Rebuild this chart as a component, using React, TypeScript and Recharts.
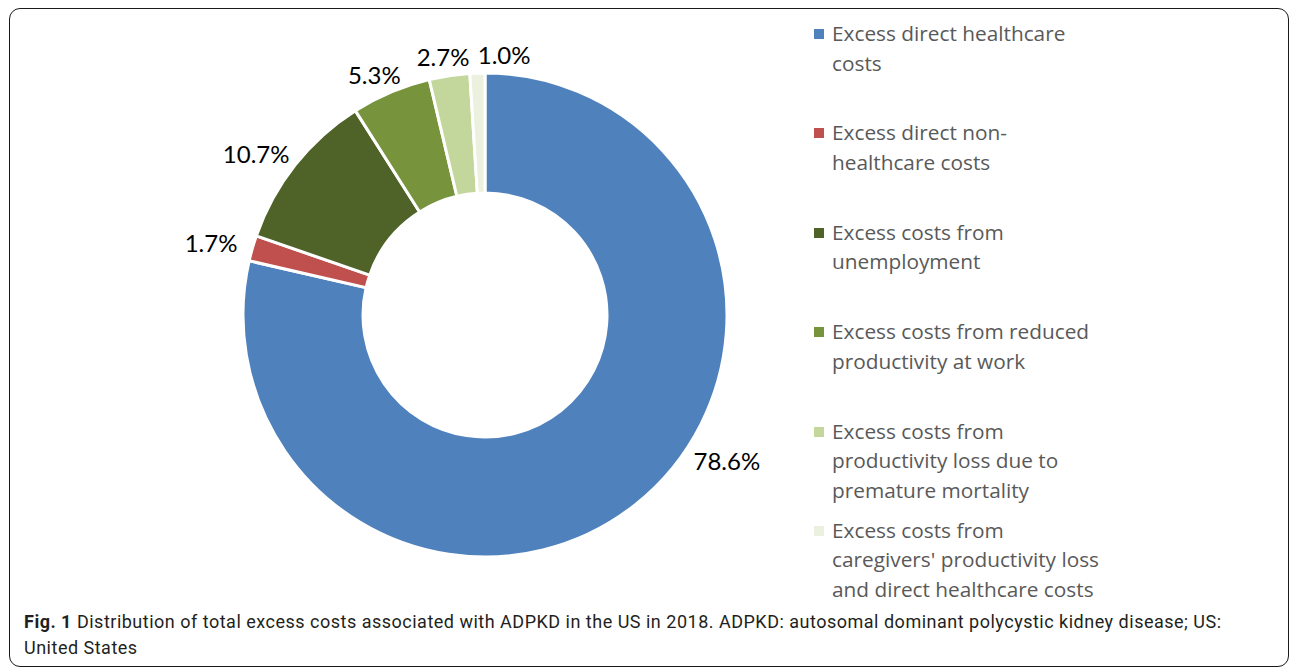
import React from 'react';
import { PieChart, Pie, Cell, Legend } from 'recharts';

// categories (line breaks kept as in the original legend)
const CATEGORIES = [
    'Excess direct healthcare\ncosts',
    'Excess direct non-\nhealthcare costs',
    'Excess costs from\nunemployment',
    'Excess costs from reduced\nproductivity at work',
    'Excess costs from\nproductivity loss due to\npremature mortality',
    "Excess costs from\ncaregivers' productivity loss\nand direct healthcare costs",
];
const SHARES = [78.6, 1.7, 10.7, 5.3, 2.7, 1.0];
const COLORS = ['#4F81BD', '#C0504D', '#4F6228', '#77933C', '#C3D69B', '#EBF1DE'];

const LABEL_FONT = "Lato, 'Open Sans', sans-serif";
const LEGEND_FONT = "'Open Sans', Lato, sans-serif";
const TEXT_GRAY = '#595959';
const BIG_LABEL_ANGLE = -34; // excel "best fit" moves the big slice label

const chartData = CATEGORIES.map((name, i) => ({ name, value: SHARES[i] }));

// eslint-disable-next-line @typescript-eslint/no-explicit-any
const renderLabel = (props: any) => {
    const { cx, cy, midAngle, outerRadius, percent, value } = props;
    const text = `${Number(value).toFixed(1)}%`;
    const angle = percent > 0.5 ? BIG_LABEL_ANGLE : midAngle;
    const rad = (Math.PI / 180) * angle;
    const cos = Math.cos(rad);
    const sin = Math.sin(rad);
    const r = outerRadius + 8;
    const px = cx + r * cos;
    const py = cy - r * sin;
    const w = text.length * 13.5;
    const h = 22;
    let x = px + (w / 2 + 8) * cos;
    if (Math.abs(cos) < 0.05) x = px + w / 2;
    const y = py - (h / 2) * sin;
    return (
        <text
            x={x}
            y={y}
            textAnchor="middle"
            dominantBaseline="central"
            fill="#000"
            fontSize={24}
            fontFamily={LABEL_FONT}
        >
            {text}
        </text>
    );
};

// eslint-disable-next-line @typescript-eslint/no-explicit-any
const LegendContent = ({ payload }: any) => {
    const items = (payload || [])
        .slice()
        .sort(
            (a: { value: string }, b: { value: string }) =>
                CATEGORIES.indexOf(a.value) - CATEGORIES.indexOf(b.value)
        );
    return (
        <div style={{ fontFamily: LEGEND_FONT }}>
            {items.map((p: { value: string; color: string }, i: number) => (
                <div
                    key={i}
                    style={{
                        position: 'relative',
                        height: 99.4,
                        paddingLeft: 18,
                        fontSize: 20.8,
                        lineHeight: '29.5px',
                        color: TEXT_GRAY,
                        whiteSpace: 'pre-line',
                    }}
                >
                    <span
                        style={{
                            position: 'absolute',
                            left: 0,
                            top: 10,
                            width: 10,
                            height: 10,
                            background: p.color,
                        }}
                    />
                    {p.value}
                </div>
            ))}
        </div>
    );
};

export default function App() {
    return (
        <div
            style={{
                position: 'fixed',
                left: 0,
                top: 0,
                width: 1292,
                height: 668,
                overflow: 'hidden',
                background: '#fff',
            }}
        >
            <div
                style={{
                    position: 'absolute',
                    left: 9,
                    top: 8,
                    width: 1278,
                    height: 657,
                    border: '1.5px solid #1a1a1a',
                    borderRadius: 11,
                }}
            />
            <div style={{ position: 'absolute', left: 0, top: 0 }}>
                <PieChart width={1292} height={600} margin={{ top: 0, right: 0, bottom: 0, left: 0 }}>
                    <Pie
                        data={chartData}
                        dataKey="value"
                        nameKey="name"
                        cx={485}
                        cy={315}
                        innerRadius={122}
                        outerRadius={242}
                        startAngle={90}
                        endAngle={-270}
                        stroke="#fff"
                        strokeWidth={3}
                        label={renderLabel}
                        labelLine={false}
                        isAnimationActive={false}
                    >
                        {chartData.map((_, i) => (
                            <Cell key={i} fill={COLORS[i]} />
                        ))}
                    </Pie>
                    <Legend
                        layout="vertical"
                        align="right"
                        verticalAlign="top"
                        content={<LegendContent />}
                        wrapperStyle={{ left: 814, top: 19, width: 360 }}
                    />
                </PieChart>
            </div>
            <div
                style={{
                    position: 'absolute',
                    left: 24,
                    top: 609,
                    width: 1260,
                    fontFamily: "Roboto, Lato, sans-serif",
                    fontSize: 18,
                    letterSpacing: 0.5,
                    lineHeight: '26px',
                    color: '#231f20',
                    whiteSpace: 'nowrap',
                }}
            >
                <b>Fig. 1</b> Distribution of total excess costs associated with ADPKD in the US in 2018. ADPKD:
                autosomal dominant polycystic kidney disease; US:
                <br />
                United States
            </div>
        </div>
    );
}
